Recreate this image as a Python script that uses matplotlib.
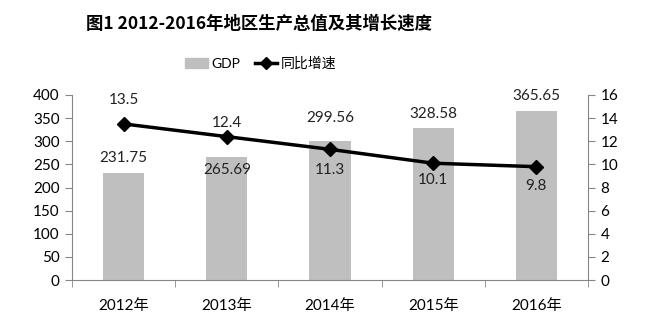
import numpy as np
import matplotlib.pyplot as plt
from matplotlib.lines import Line2D
from matplotlib.patches import Patch

plt.rcParams['font.family'] = ['Lato', 'Noto Sans CJK SC', 'DejaVu Sans']

years = ['2012年', '2013年', '2014年', '2015年', '2016年']
gdp = [231.75, 265.69, 299.56, 328.58, 365.65]
growth = [13.5, 12.4, 11.3, 10.1, 9.8]

# label offsets in points (layout only)
gdp_off = [11, -9, 17, 10, 11]
growth_off = [17, 10, -15, -12, -14]

axis_col = '#868686'
bar_col = '#BFBFBF'

fig = plt.figure(figsize=(6.57, 3.33), dpi=100)
ax = fig.add_axes([72 / 657, 53 / 333, 516 / 657, 185 / 333])
ax2 = ax.twinx()

x = np.arange(len(years))
ax.bar(x, gdp, width=0.4, color=bar_col, zorder=2)
ax2.plot(x, growth, color='black', lw=2.5, marker='D', ms=7, zorder=3)

for xi, v, off in zip(x, gdp, gdp_off):
    ax.annotate(f'{v:g}', (xi, v), xytext=(0, off), textcoords='offset points',
                ha='center', va='center', fontsize=11, color='#222222')
for xi, v, off in zip(x, growth, growth_off):
    ax2.annotate(f'{v:g}', (xi, v), xytext=(0, off), textcoords='offset points',
                 ha='center', va='center', fontsize=11, color='#222222')

ax.set_xlim(-0.5, len(years) - 0.5)
ax.set_ylim(0, 400)
ax.set_yticks(np.arange(0, 401, 50))
ax2.set_ylim(0, 16)
ax2.set_yticks(np.arange(0, 17, 2))

ax.set_xticks(x)
ax.set_xticklabels(years, fontsize=11)
ax.set_xticks(np.arange(-0.5, len(years)), minor=True)
ax.tick_params(axis='x', which='major', length=0, pad=14)
ax.tick_params(axis='x', which='minor', length=5, color=axis_col, direction='out')

for a in (ax, ax2):
    a.spines['top'].set_visible(False)
    for s in ('left', 'right', 'bottom'):
        a.spines[s].set_color(axis_col)
    a.tick_params(axis='y', length=5, color=axis_col, labelsize=11, pad=4)
ax.spines['right'].set_visible(False)
ax2.spines['left'].set_visible(False)
ax2.spines['bottom'].set_visible(False)

fig.text(259 / 657, 1 - 24 / 333, '图1 2012-2016年地区生产总值及其增长速度',
         ha='center', va='center', fontsize=12.5, fontweight='bold',
         fontfamily=['Noto Sans CJK SC', 'DejaVu Sans'])

handles = [Patch(color=bar_col, label='GDP'),
           Line2D([], [], color='black', lw=2.5, marker='D', ms=6, label='同比增速')]
fig.legend(handles=handles, loc='center', bbox_to_anchor=(261 / 657, 1 - 63 / 333),
           ncol=2, frameon=False, fontsize=10, handlelength=1.6, columnspacing=1.0,
           handletextpad=0.3)

fig.savefig('out.png', dpi=100)
